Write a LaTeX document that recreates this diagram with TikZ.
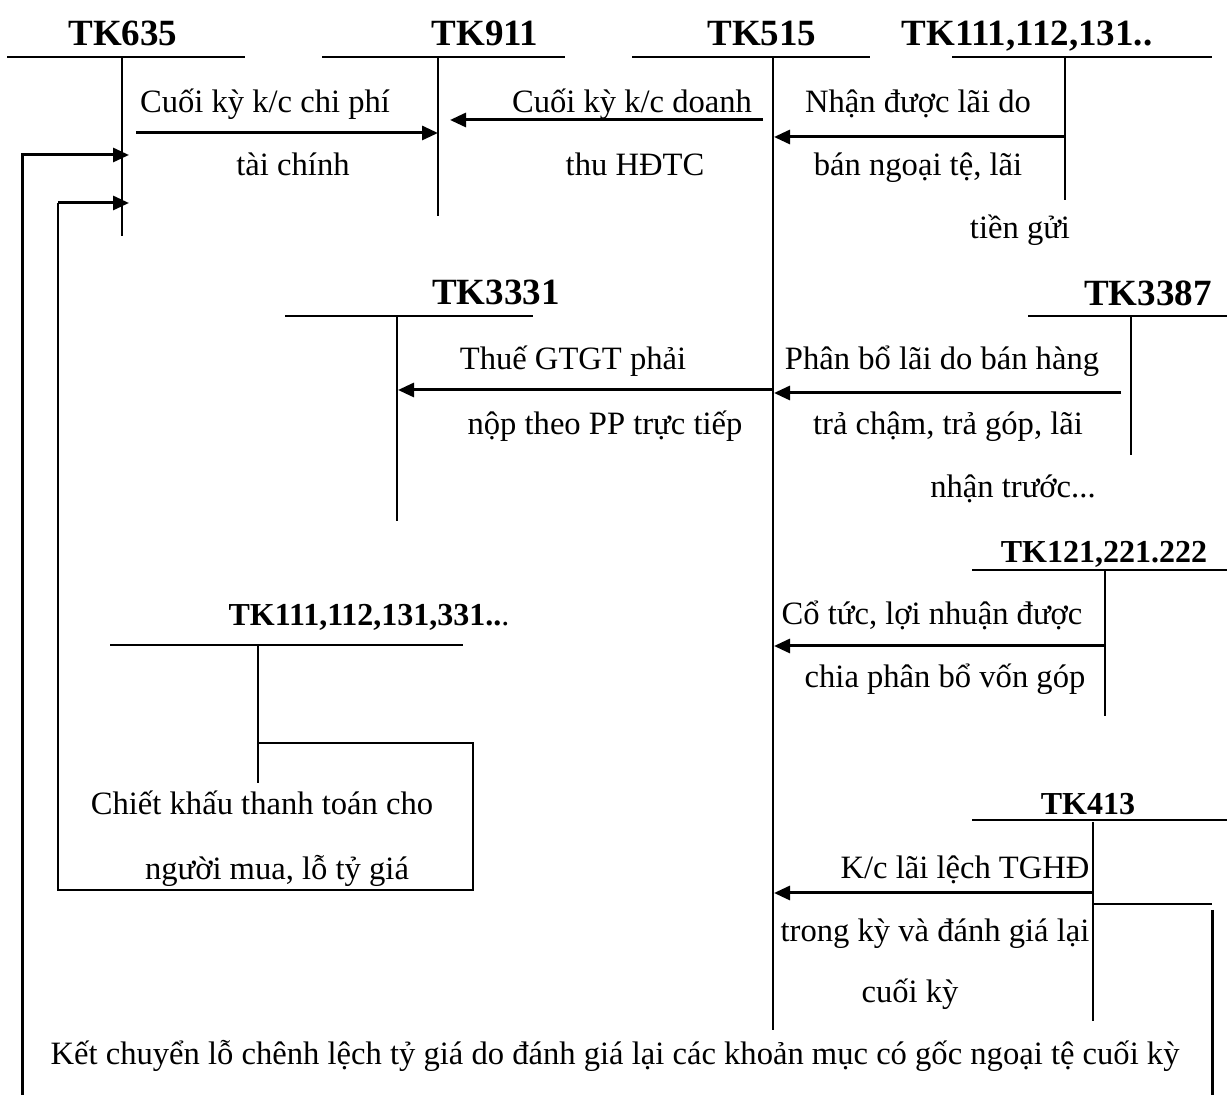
\documentclass[tikz,border=0pt]{standalone}
\usepackage{fontspec}
\setmainfont{Liberation Serif}
\usetikzlibrary{arrows.meta}
\begin{document}
\begin{tikzpicture}[x=0.5pt,y=-0.5pt,
  tline/.style={line width=1pt},
  tip/.style={-{Triangle[length=8pt,width=7pt]}},
  flow/.style={line width=1.5pt,tip},
  bigline/.style={line width=1.5pt},
  lbl/.style={font=\fontsize{16.3}{19}\selectfont, inner sep=0pt, anchor=base},
  ttl/.style={font=\fontsize{18.5}{21}\selectfont\bfseries, inner sep=0pt, anchor=base},
  ttls/.style={font=\fontsize{16}{19}\selectfont\bfseries, inner sep=0pt, anchor=base}]
\useasboundingbox (0,0) rectangle (1227,1095);

% ---- titles
\node[ttl] (t635) at (123,46) {TK635};
\node[ttl] (t911) at (485,46) {TK911};
\node[ttl] (t515) at (762,46) {TK515};
\node[ttl] (t111a) at (1027,46) {TK111,112,131..};
\node[ttl] (t3331) at (496,305) {TK3331};
\node[ttl] (t3387) at (1148,306) {TK3387};
\node[ttls] (t121) at (1104,563) {TK121,221.222};
\node[ttls] (t111b) at (369,626) {TK111,112,131,331..\textmd{.}};
\node[ttls] (t413) at (1088,815) {TK413};

% ---- T-account coordinates
\coordinate (h635a) at (7,57);   \coordinate (h635b) at (245,57);
\coordinate (v635a) at (122,57); \coordinate (v635b) at (122,236);
\coordinate (h911a) at (322,57); \coordinate (h911b) at (565,57);
\coordinate (v911a) at (438,57); \coordinate (v911b) at (438,216);
\coordinate (h515a) at (632,57); \coordinate (h515b) at (870,57);
\coordinate (v515a) at (773,57); \coordinate (v515b) at (773,1030);
\coordinate (h111aa) at (952,57); \coordinate (h111ab) at (1212,57);
\coordinate (v111aa) at (1065,57); \coordinate (v111ab) at (1065,200);
\coordinate (h3331a) at (285,316); \coordinate (h3331b) at (533,316);
\coordinate (v3331a) at (397,316); \coordinate (v3331b) at (397,521);
\coordinate (h3387a) at (1028,316); \coordinate (h3387b) at (1227,316);
\coordinate (v3387a) at (1131,316); \coordinate (v3387b) at (1131,455);
\coordinate (h121a) at (972,570); \coordinate (h121b) at (1227,570);
\coordinate (v121a) at (1105,570); \coordinate (v121b) at (1105,716);
\coordinate (h111ba) at (110,645); \coordinate (h111bb) at (463,645);
\coordinate (v111ba) at (258,645); \coordinate (v111bb) at (258,783);
\coordinate (h413a) at (972,820); \coordinate (h413b) at (1227,820);
\coordinate (v413a) at (1093,822); \coordinate (v413b) at (1093,1021);

\foreach \n in {635,911,515,111a,3331,3387,121,111b,413}{
  \draw[tline] (h\n a) -- (h\n b);
  \draw[tline] (v\n a) -- (v\n b);
}

% ---- labels
\node[lbl] (l1a) at (265,113) {Cuối kỳ k/c chi phí};
\node[lbl] (l1b) at (293,176) {tài chính};
\node[lbl] (l2a) at (632,113) {Cuối kỳ k/c doanh};
\node[lbl] (l2b) at (635,176) {thu HĐTC};
\node[lbl] (l3a) at (918,113) {Nhận được lãi do};
\node[lbl] (l3b) at (918,176) {bán ngoại tệ, lãi};
\node[lbl] (l3c) at (1020,239) {tiền gửi};
\node[lbl] (l4a) at (573,370) {Thuế GTGT phải};
\node[lbl] (l4b) at (605,435) {nộp theo PP trực tiếp};
\node[lbl] (l5a) at (942,370) {Phân bổ lãi do bán hàng};
\node[lbl] (l5b) at (948,435) {trả chậm, trả góp, lãi};
\node[lbl] (l5c) at (1013,498) {nhận trước...};
\node[lbl] (l6a) at (932,625) {Cổ tức, lợi nhuận được};
\node[lbl] (l6b) at (945,688) {chia phân bổ vốn góp};
\node[lbl] (l7a) at (262,815) {Chiết khấu thanh toán cho};
\node[lbl] (l7b) at (277,880) {người mua, lỗ tỷ giá};
\node[lbl] (l8a) at (965,879) {K/c lãi lệch TGHĐ};
\node[lbl] (l8b) at (935,942) {trong kỳ và đánh giá lại};
\node[lbl] (l8c) at (910,1003) {cuối kỳ};
\node[lbl] (l9) at (615,1065) {Kết chuyển lỗ chênh lệch tỷ giá do đánh giá lại các khoản mục có gốc ngoại tệ cuối kỳ};

% ---- arrow coordinates
\coordinate (a1s) at (136,133);  \coordinate (a1e) at (438,133);
\coordinate (a2s) at (763,120);  \coordinate (a2e) at (450,120);
\coordinate (a3s) at (1065,137); \coordinate (a3e) at (774,137);
\coordinate (a4s) at (773,390);  \coordinate (a4e) at (398,390);
\coordinate (a5s) at (1121,393); \coordinate (a5e) at (774,393);
\coordinate (a6s) at (1105,646); \coordinate (a6e) at (774,646);
\coordinate (a7s) at (1093,893); \coordinate (a7e) at (774,893);

\draw[flow] (a1s) -- (a1e);
\draw[flow] (a2s) -- (a2e);
\draw[flow] (a3s) -- (a3e);
\draw[flow] (a4s) -- (a4e);
\draw[flow] (a5s) -- (a5e);
\draw[flow] (a6s) -- (a6e);
\draw[flow] (a7s) -- (a7e);

% ---- return paths to TK635
\coordinate (r1a) at (1093,904); \coordinate (r1b) at (1212,904);
\coordinate (r1c) at (1212,910); \coordinate (r1d) at (1212,1095);
\coordinate (r1e) at (22,1095);  \coordinate (r1f) at (22,155);
\coordinate (r1g) at (129,155);
\draw[tline] (r1a) -- (r1b);
\draw[bigline] (r1c) -- (r1d);
\draw[bigline,tip] (r1e) -- (r1f) -- (r1g);

\coordinate (b1) at (258,743); \coordinate (b2) at (473,743);
\coordinate (b3) at (473,890); \coordinate (b4) at (58,890);
\coordinate (b5) at (58,203);  \coordinate (b6) at (129,203);
\draw[tline] (b1) -- (b2) -- (b3) -- (b4) -- (b5);
\draw[bigline,tip] (b5) -- (b6);
\end{tikzpicture}
\end{document}
